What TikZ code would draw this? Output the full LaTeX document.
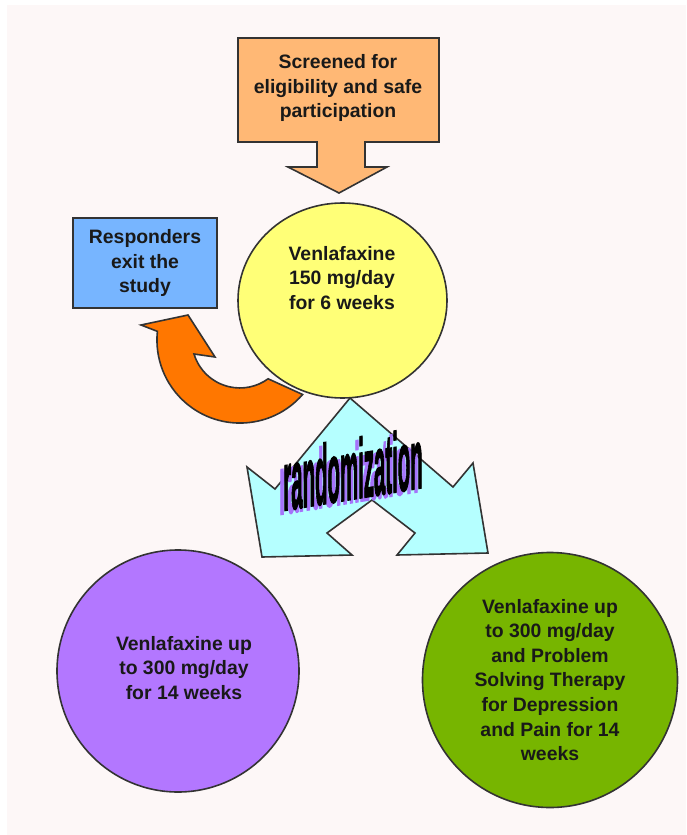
\documentclass[tikz,border=0pt]{standalone}
\usepackage{fontspec}
\setmainfont{Liberation Sans}
\newfontfamily\wordartfont[FakeBold=2.5]{Liberation Sans}
\usetikzlibrary{shapes.geometric}
\definecolor{bgpink}{RGB}{253,247,247}
\definecolor{peach}{RGB}{255,184,117}
\definecolor{skyblue}{RGB}{119,181,255}
\definecolor{lemon}{RGB}{255,255,119}
\definecolor{tangerine}{RGB}{255,119,0}
\definecolor{icecyan}{RGB}{181,255,255}
\definecolor{lilac}{RGB}{179,119,255}
\definecolor{leafgreen}{RGB}{119,181,0}
\definecolor{shadowpurple}{RGB}{165,115,250}
\begin{document}
\begin{tikzpicture}[x=0.5pt, y=-0.5pt,
    rim/.style={draw=black!80, line width=0.8pt},
    txt/.style={font=\bfseries\fontsize{9.7}{12.3}\selectfont, align=center, text=black!90},
    wordart/.style={anchor=base, font=\wordartfont\bfseries\fontsize{10}{10}\selectfont,
      yslant=0.165, xscale=1.02, yscale=4.2}]
  \useasboundingbox (0,0) rectangle (686,835);
  \fill[white] (0,0) rectangle (686,835);
  \fill[bgpink] (7,5) rectangle (686,835);
  % screening callout
  \draw[rim, fill=peach] (238,38) -- (439,38) -- (439,142) -- (365,142) -- (365,167)
    -- (387,167) -- (339,193) -- (288,167) -- (317,167) -- (317,142) -- (238,142) -- cycle;
  \node[txt] (screen) at (338,88) {Screened for\\ eligibility and safe\\ participation};
  % responders leave
  \node[rim, fill=skyblue, minimum width=72pt, minimum height=45pt, txt] (exit) at (145,263)
    {Responders\\ exit the\\ study};
  \draw[rim, fill=tangerine] (302.6,394.5) arc[start angle=41, end angle=186, radius=83]
    -- (141,325) -- (188,315) -- (215,357) -- (194,354)
    arc[start angle=163, end angle=54, radius=48] -- cycle;
  % randomization arrows
  \draw[rim, fill=icecyan] (350,398) -- (453,487) -- (473,463) -- (488,553) -- (397,555)
    -- (415,533) -- (372,500) -- (327,533) -- (352,555) -- (262,557) -- (247,467)
    -- (275,489) -- cycle;
  % first phase
  \node[ellipse, rim, fill=lemon, minimum width=104.5pt, minimum height=97.5pt,
    inner sep=0pt] (venla) at (342.5,300.5) {};
  \node[txt] (venlatext) at (342,278) {Venlafaxine\\ 150 mg/day\\ for 6 weeks};
  % the two arms
  \node[circle, rim, fill=lilac, minimum size=121pt, inner sep=0pt] (armone) at (178,671) {};
  \node[txt] (armonetext) at (184,668) {Venlafaxine up\\ to 300 mg/day\\ for 14 weeks};
  \node[circle, rim, fill=leafgreen, minimum size=127.5pt, inner sep=0pt, txt] (armtwo)
    at (550,680) {Venlafaxine up\\ to 300 mg/day\\ and Problem\\ Solving Therapy\\
    for Depression\\ and Pain for 14\\ weeks};
  \node[wordart, text=shadowpurple] (randshadow) at (349,503) {randomization};
  \node[wordart, text=black] (randtext) at (353,499) {randomization};
\end{tikzpicture}
\end{document}
